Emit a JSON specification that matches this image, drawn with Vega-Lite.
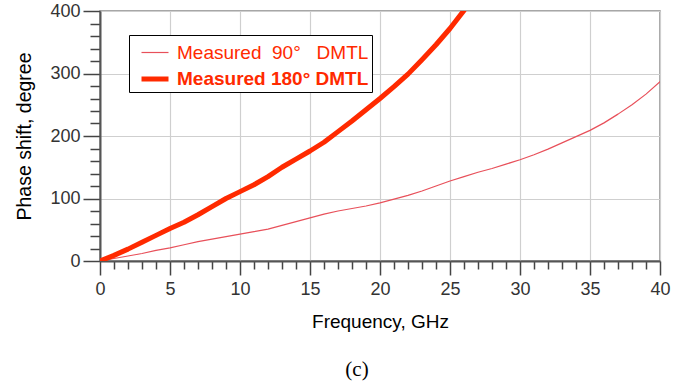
{
  "$schema": "https://vega.github.io/schema/vega-lite/v6.json",
  "width": 560,
  "height": 250,
  "autosize": {"type": "none"},
  "padding": {"left": 100, "top": 11, "right": 28, "bottom": 128},
  "background": "white",
  "config": {
    "font": "Liberation Sans",
    "view": {"stroke": "#8a8a8a", "strokeWidth": 1.5}
  },
  "title": {
    "text": "(c)",
    "orient": "bottom",
    "font": "Liberation Serif",
    "fontSize": 21,
    "fontWeight": "normal",
    "color": "#000",
    "offset": 28,
    "dx": -23
  },
  "data": {
    "values": [
      {"f": 0, "p": 0, "s": "Measured\u00a0\u00a090°\u00a0\u00a0\u00a0DMTL"},
      {"f": 1, "p": 4, "s": "Measured\u00a0\u00a090°\u00a0\u00a0\u00a0DMTL"},
      {"f": 2, "p": 8, "s": "Measured\u00a0\u00a090°\u00a0\u00a0\u00a0DMTL"},
      {"f": 3, "p": 12, "s": "Measured\u00a0\u00a090°\u00a0\u00a0\u00a0DMTL"},
      {"f": 4, "p": 17, "s": "Measured\u00a0\u00a090°\u00a0\u00a0\u00a0DMTL"},
      {"f": 5, "p": 21, "s": "Measured\u00a0\u00a090°\u00a0\u00a0\u00a0DMTL"},
      {"f": 6, "p": 26, "s": "Measured\u00a0\u00a090°\u00a0\u00a0\u00a0DMTL"},
      {"f": 7, "p": 31, "s": "Measured\u00a0\u00a090°\u00a0\u00a0\u00a0DMTL"},
      {"f": 8, "p": 35, "s": "Measured\u00a0\u00a090°\u00a0\u00a0\u00a0DMTL"},
      {"f": 9, "p": 39, "s": "Measured\u00a0\u00a090°\u00a0\u00a0\u00a0DMTL"},
      {"f": 10, "p": 43, "s": "Measured\u00a0\u00a090°\u00a0\u00a0\u00a0DMTL"},
      {"f": 11, "p": 47, "s": "Measured\u00a0\u00a090°\u00a0\u00a0\u00a0DMTL"},
      {"f": 12, "p": 51, "s": "Measured\u00a0\u00a090°\u00a0\u00a0\u00a0DMTL"},
      {"f": 13, "p": 57, "s": "Measured\u00a0\u00a090°\u00a0\u00a0\u00a0DMTL"},
      {"f": 14, "p": 63, "s": "Measured\u00a0\u00a090°\u00a0\u00a0\u00a0DMTL"},
      {"f": 15, "p": 69, "s": "Measured\u00a0\u00a090°\u00a0\u00a0\u00a0DMTL"},
      {"f": 16, "p": 75, "s": "Measured\u00a0\u00a090°\u00a0\u00a0\u00a0DMTL"},
      {"f": 17, "p": 80, "s": "Measured\u00a0\u00a090°\u00a0\u00a0\u00a0DMTL"},
      {"f": 18, "p": 84, "s": "Measured\u00a0\u00a090°\u00a0\u00a0\u00a0DMTL"},
      {"f": 19, "p": 88, "s": "Measured\u00a0\u00a090°\u00a0\u00a0\u00a0DMTL"},
      {"f": 20, "p": 93, "s": "Measured\u00a0\u00a090°\u00a0\u00a0\u00a0DMTL"},
      {"f": 21, "p": 99, "s": "Measured\u00a0\u00a090°\u00a0\u00a0\u00a0DMTL"},
      {"f": 22, "p": 105, "s": "Measured\u00a0\u00a090°\u00a0\u00a0\u00a0DMTL"},
      {"f": 23, "p": 112, "s": "Measured\u00a0\u00a090°\u00a0\u00a0\u00a0DMTL"},
      {"f": 24, "p": 120, "s": "Measured\u00a0\u00a090°\u00a0\u00a0\u00a0DMTL"},
      {"f": 25, "p": 128, "s": "Measured\u00a0\u00a090°\u00a0\u00a0\u00a0DMTL"},
      {"f": 26, "p": 135, "s": "Measured\u00a0\u00a090°\u00a0\u00a0\u00a0DMTL"},
      {"f": 27, "p": 142, "s": "Measured\u00a0\u00a090°\u00a0\u00a0\u00a0DMTL"},
      {"f": 28, "p": 148, "s": "Measured\u00a0\u00a090°\u00a0\u00a0\u00a0DMTL"},
      {"f": 29, "p": 155, "s": "Measured\u00a0\u00a090°\u00a0\u00a0\u00a0DMTL"},
      {"f": 30, "p": 162, "s": "Measured\u00a0\u00a090°\u00a0\u00a0\u00a0DMTL"},
      {"f": 31, "p": 170, "s": "Measured\u00a0\u00a090°\u00a0\u00a0\u00a0DMTL"},
      {"f": 32, "p": 179, "s": "Measured\u00a0\u00a090°\u00a0\u00a0\u00a0DMTL"},
      {"f": 33, "p": 189, "s": "Measured\u00a0\u00a090°\u00a0\u00a0\u00a0DMTL"},
      {"f": 34, "p": 199, "s": "Measured\u00a0\u00a090°\u00a0\u00a0\u00a0DMTL"},
      {"f": 35, "p": 209, "s": "Measured\u00a0\u00a090°\u00a0\u00a0\u00a0DMTL"},
      {"f": 36, "p": 221, "s": "Measured\u00a0\u00a090°\u00a0\u00a0\u00a0DMTL"},
      {"f": 37, "p": 235, "s": "Measured\u00a0\u00a090°\u00a0\u00a0\u00a0DMTL"},
      {"f": 38, "p": 250, "s": "Measured\u00a0\u00a090°\u00a0\u00a0\u00a0DMTL"},
      {"f": 39, "p": 267, "s": "Measured\u00a0\u00a090°\u00a0\u00a0\u00a0DMTL"},
      {"f": 40, "p": 287, "s": "Measured\u00a0\u00a090°\u00a0\u00a0\u00a0DMTL"},
      {"f": 0, "p": 0, "s": "Measured 180° DMTL"},
      {"f": 1, "p": 9, "s": "Measured 180° DMTL"},
      {"f": 2, "p": 19, "s": "Measured 180° DMTL"},
      {"f": 3, "p": 30, "s": "Measured 180° DMTL"},
      {"f": 4, "p": 41, "s": "Measured 180° DMTL"},
      {"f": 5, "p": 52, "s": "Measured 180° DMTL"},
      {"f": 6, "p": 62, "s": "Measured 180° DMTL"},
      {"f": 7, "p": 74, "s": "Measured 180° DMTL"},
      {"f": 8, "p": 87, "s": "Measured 180° DMTL"},
      {"f": 9, "p": 100, "s": "Measured 180° DMTL"},
      {"f": 10, "p": 111, "s": "Measured 180° DMTL"},
      {"f": 11, "p": 122, "s": "Measured 180° DMTL"},
      {"f": 12, "p": 135, "s": "Measured 180° DMTL"},
      {"f": 13, "p": 150, "s": "Measured 180° DMTL"},
      {"f": 14, "p": 163, "s": "Measured 180° DMTL"},
      {"f": 15, "p": 176, "s": "Measured 180° DMTL"},
      {"f": 16, "p": 190, "s": "Measured 180° DMTL"},
      {"f": 17, "p": 207, "s": "Measured 180° DMTL"},
      {"f": 18, "p": 224, "s": "Measured 180° DMTL"},
      {"f": 19, "p": 242, "s": "Measured 180° DMTL"},
      {"f": 20, "p": 260, "s": "Measured 180° DMTL"},
      {"f": 21, "p": 279, "s": "Measured 180° DMTL"},
      {"f": 22, "p": 299, "s": "Measured 180° DMTL"},
      {"f": 23, "p": 322, "s": "Measured 180° DMTL"},
      {"f": 24, "p": 346, "s": "Measured 180° DMTL"},
      {"f": 25, "p": 372, "s": "Measured 180° DMTL"},
      {"f": 26, "p": 401, "s": "Measured 180° DMTL"}
    ]
  },
  "mark": {"type": "line", "clip": true, "strokeCap": "round", "strokeJoin": "round"},
  "encoding": {
    "x": {
      "field": "f",
      "type": "quantitative",
      "scale": {"domain": [0, 40], "nice": false},
      "axis": {
        "title": "Frequency, GHz",
        "titleFont": "Liberation Sans",
        "titleFontSize": 19,
        "titleFontWeight": "normal",
        "titleColor": "#000",
        "titlePadding": 14,
        "values": [0,1,2,3,4,5,6,7,8,9,10,11,12,13,14,15,16,17,18,19,20,21,22,23,24,25,26,27,28,29,30,31,32,33,34,35,36,37,38,39,40],
        "labelExpr": "datum.value % 5 === 0 ? datum.value : ''",
        "labelFontSize": 18,
        "labelColor": "#333",
        "labelPadding": 5,
        "labelFlush": false,
        "labelOverlap": false,
        "tickSize": {"condition": {"test": "datum.value % 5 === 0", "value": 14}, "value": 8},
        "tickColor": "#444",
        "tickWidth": 1.5,
        "domainColor": "#555",
        "domainWidth": 2,
        "grid": true,
        "gridColor": "#cfcfcf",
        "gridWidth": 1.2,
        "gridOpacity": {"condition": {"test": "datum.value % 5 === 0", "value": 1}, "value": 0}
      }
    },
    "y": {
      "field": "p",
      "type": "quantitative",
      "scale": {"domain": [0, 400], "nice": false},
      "axis": {
        "title": "Phase shift, degree",
        "titleFont": "Liberation Sans",
        "titleFontSize": 19.5,
        "titleFontWeight": "normal",
        "titleColor": "#000",
        "titlePadding": 15,
        "values": [0,20,40,60,80,100,120,140,160,180,200,220,240,260,280,300,320,340,360,380,400],
        "labelExpr": "datum.value % 100 === 0 ? datum.value : ''",
        "labelFontSize": 18,
        "labelColor": "#333",
        "labelPadding": 3,
        "labelFlush": false,
        "labelOverlap": false,
        "tickSize": {"condition": {"test": "datum.value % 100 === 0", "value": 17}, "value": 10},
        "tickColor": "#444",
        "tickWidth": 1.5,
        "domainColor": "#555",
        "domainWidth": 2,
        "grid": true,
        "gridColor": "#cfcfcf",
        "gridWidth": 1.2,
        "gridOpacity": {"condition": {"test": "datum.value % 100 === 0", "value": 1}, "value": 0}
      }
    },
    "color": {
      "field": "s",
      "type": "nominal",
      "scale": {
        "domain": ["Measured\u00a0\u00a090°\u00a0\u00a0\u00a0DMTL", "Measured 180° DMTL"],
        "range": ["#e8505a", "#ff2a00"]
      },
      "legend": {
        "title": null,
        "orient": "none",
        "legendX": 29,
        "legendY": 24,
        "padding": 3,
        "strokeColor": "#000",
        "fillColor": "#fff",
        "symbolType": "stroke",
        "symbolSize": 729,
        "symbolOffset": 7,
        "labelFont": "Liberation Sans",
        "labelFontSize": 19,
        "labelColor": "#ff2a00",
        "labelOffset": 6,
        "rowPadding": 0,
        "labelLimit": 400,
        "encode": {
          "labels": {
            "update": {
              "fontWeight": {"signal": "datum.label == 'Measured 180° DMTL' ? 'bold' : 'normal'"}
            }
          }
        }
      }
    },
    "strokeWidth": {
      "field": "s",
      "type": "nominal",
      "scale": {
        "domain": ["Measured\u00a0\u00a090°\u00a0\u00a0\u00a0DMTL", "Measured 180° DMTL"],
        "range": [1.2, 5]
      },
      "legend": null
    }
  }
}
